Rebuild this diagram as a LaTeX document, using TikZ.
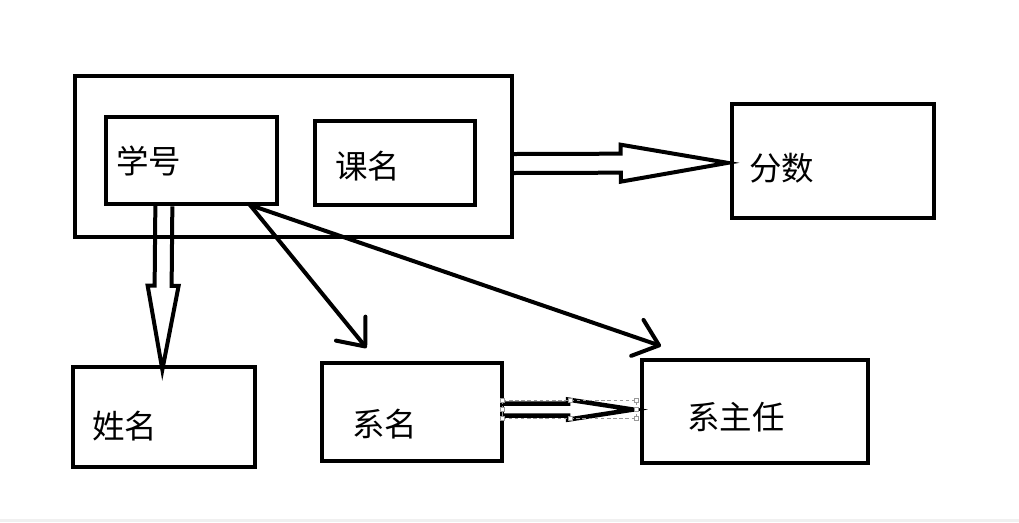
\documentclass[tikz,border=0pt]{standalone}
\usepackage{fontspec}
\newfontfamily\cjk{Noto Sans CJK SC}
\usetikzlibrary{
	fit,
	calc,
	arrows.meta
}
\tikzset{
%Define style for boxes
boks/.style={
	rectangle,
	draw=black, line width=0.08cm,
	inner sep=0pt},
%Define style for the labels
tekst/.style={
	anchor=west,
	inner sep=0pt,
	font=\cjk\fontsize{18.5}{20}\selectfont},
% Define arrow style
pil/.style={
	-{Straight Barb[length=0.46cm,width=0.76cm,round]},
	line width=0.08cm,
	line cap=round},
% Define style for hollow arrows
tykkpil/.style={
	draw=black,
	line width=0.08cm,
	line join=miter},
% Define style for selection handles
merke/.style={
	draw=gray!80, fill=white, line width=0.3pt}
}
% hollow arrow: [options] start, tip, shaft half width, head half width, head length
\newcommand{\hulpil}[6][]{%
	\coordinate (hb) at ($(#3)!#6!(#2)$);
	\draw[tykkpil,#1] ($(#2)!#4!90:(#3)$) -- ($(hb)!#4!90:(#3)$) -- ($(hb)!#5!90:(#3)$)
		-- (#3) -- ($(hb)!#5!-90:(#3)$) -- ($(hb)!#4!-90:(#3)$) -- ($(#2)!#4!-90:(#3)$);
}

\begin{document}
\begin{tikzpicture}[x=0.02cm,y=-0.02cm]
	\useasboundingbox (0,0) rectangle (1019,522);
	\fill[gray!12] (0,519) rectangle (1019,522);
	% boxes
	\node[boks, fit={(75,75.7) (511.7,237.3)}] (ytre) {};
	\node[boks, fit={(105.7,116.7) (276.7,204.3)}] (xh) {};
	\node[boks, fit={(315,120.7) (475,205)}] (km) {};
	\node[boks, fit={(731.7,104) (934,217.7)}] (fen) {};
	\node[boks, fit={(72.7,366.7) (255,466.7)}] (xm) {};
	\node[boks, fit={(321.7,363.3) (501.7,461)}] (xim) {};
	\node[boks, fit={(641.7,360) (868.3,462.7)}] (xzr) {};
	% labels
	\node[tekst] (xh-t) at (116,161) {学号};
	\node[tekst] (km-t) at (335,166) {课名};
	\node[tekst] (fen-t) at (749,168) {分数};
	\node[tekst] (xm-t) at (92,426) {姓名};
	\node[tekst] (xim-t) at (352,424) {系名};
	\node[tekst] (xzr-t) at (687,417) {系主任};
	% hollow arrows
	\coordinate (a-fra) at ($(ytre.east)+(0,7)$);
	\coordinate (a-til) at ($(fen.west)+(-2,2)$);
	\hulpil{a-fra}{a-til}{0.19cm}{0.37cm}{2.14cm}
	\coordinate (b-fra) at (xh.south -| xm.north);
	\coordinate (b-til) at ($(xm.north)+(-1.5,5)$);
	\hulpil{b-fra}{b-til}{0.17cm}{0.31cm}{1.68cm}
	\coordinate (c-fra) at ($(xim.east)+(0,-2.5)$);
	\coordinate (c-til) at ($(xzr.west)+(-6.5,-1.8)$);
	\hulpil[line width=0.09cm]{c-fra}{c-til}{0.12cm}{0.2cm}{1.3cm}
	% plain arrows
	\coordinate (fra) at ($(xh.south east)+(-28.7,-1.3)$);
	\coordinate (xim-pil) at (366.5,348);
	\coordinate (xzr-pil) at (661,346);
	\draw[pil] (fra) -- (xim-pil);
	\draw[pil] (fra) -- (xzr-pil);
	% selection frame round the small arrow
	\draw[gray!80, line width=0.4pt, dash pattern=on 2pt off 1.5pt] (502.3,400) rectangle (636.7,418.3);
	\foreach \x/\y in {502.3/400, 570/400, 636.7/400, 502.3/409, 636.7/409, 502.3/418.3, 570/418.3, 636.7/418.3}
		\draw[merke] (\x-2,\y-2) rectangle (\x+2,\y+2);
\end{tikzpicture}
\end{document}
